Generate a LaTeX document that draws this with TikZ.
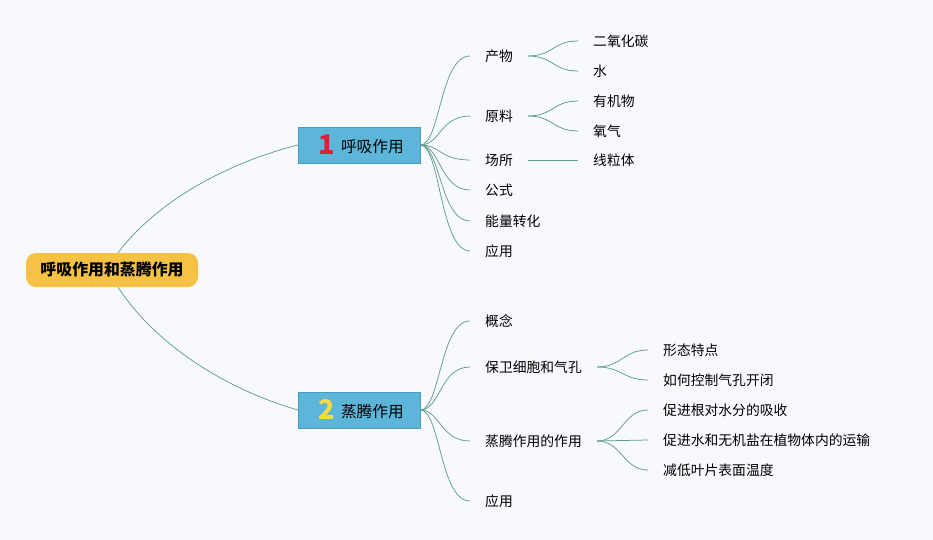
\documentclass[tikz,border=0pt]{standalone}
\usepackage{fontspec}
\setmainfont{Noto Sans CJK SC}
\definecolor{bgcol}{HTML}{F8F9FD}
\definecolor{linecol}{HTML}{5F9E8F}
\definecolor{boxfill}{HTML}{5CB6DA}
\definecolor{boxedge}{HTML}{4A9CBC}
\definecolor{rootfill}{HTML}{F5C244}
\definecolor{numred}{HTML}{DE1F36}
\definecolor{numyellow}{HTML}{F6DB3C}
\newcommand{\topiclabel}[3]{\makebox[122pt][l]{\hspace*{18.5pt}\makebox[20pt]{\color{#1}\fontsize{27}{27}\selectfont\bfseries #2}\hspace{4.5pt}\raisebox{2.5pt}{#3}}}

\begin{document}
\begin{tikzpicture}[x=1pt,y=-1pt,
  branch/.style={draw=linecol, line width=0.75pt},
  leaf/.style={anchor=west, inner xsep=15pt, inner ysep=2pt, font=\fontsize{13.8}{16}\selectfont},
  topic/.style={draw=boxedge, fill=boxfill, line width=0.6pt, minimum width=122pt, minimum height=36pt, inner sep=0pt, font=\fontsize{15.7}{18}\selectfont},
  rootbox/.style={fill=rootfill, rounded corners=10pt, minimum width=172pt, minimum height=34pt, inner sep=0pt, font=\fontsize{15.9}{18}\selectfont\bfseries}]

\fill[bgcol] (0,0) rectangle (933,540);

\node[rootbox] (root) at (112,270) {呼吸作用和蒸腾作用};
\node[topic] (resp) at (359,145) {\topiclabel{numred}{1}{呼吸作用}};
\node[topic] (trans) at (359,410) {\topiclabel{numyellow}{2}{蒸腾作用}};

\draw[branch] ([xshift=6pt]root.north) .. controls (154,205) and (220,165) .. (resp.west);
\draw[branch] ([xshift=6pt]root.south) .. controls (154,342) and (220,387) .. (trans.west);

% 呼吸作用
\foreach \name/\y/\txt in {prod/56/产物, raw/116/原料, site/160/场所, form/190/公式, energy/221/能量转化, userA/251/应用} {
  \node[leaf] (\name) at (470,\y) {\txt};
  \draw[branch] (resp.east) .. controls +(20,0) and +(-30,0) .. (\name.west);
}
\foreach \name/\src/\y/\txt in {co/prod/41/二氧化碳, water/prod/71/水, organic/raw/101/有机物, oxygen/raw/131/氧气, mito/site/160/线粒体} {
  \node[leaf] (\name) at (578,\y) {\txt};
  \draw[branch] (\src.east) .. controls +(25,0) and +(-25,0) .. (\name.west);
}

% 蒸腾作用
\foreach \name/\y/\txt in {concept/321/概念, guard/367/保卫细胞和气孔, effect/441/蒸腾作用的作用, userB/501/应用} {
  \node[leaf] (\name) at (470,\y) {\txt};
  \draw[branch] (trans.east) .. controls +(20,0) and +(-30,0) .. (\name.west);
}
\foreach \name/\src/\y/\txt in {shape/guard/350/形态特点, open/guard/380/如何控制气孔开闭, absorb/effect/410/促进根对水分的吸收, carry/effect/440/促进水和无机盐在植物体内的运输, cool/effect/470/减低叶片表面温度} {
  \node[leaf] (\name) at (648,\y) {\txt};
  \draw[branch] (\src.east) .. controls +(25,0) and +(-25,0) .. (\name.west);
}
\end{tikzpicture}
\end{document}
